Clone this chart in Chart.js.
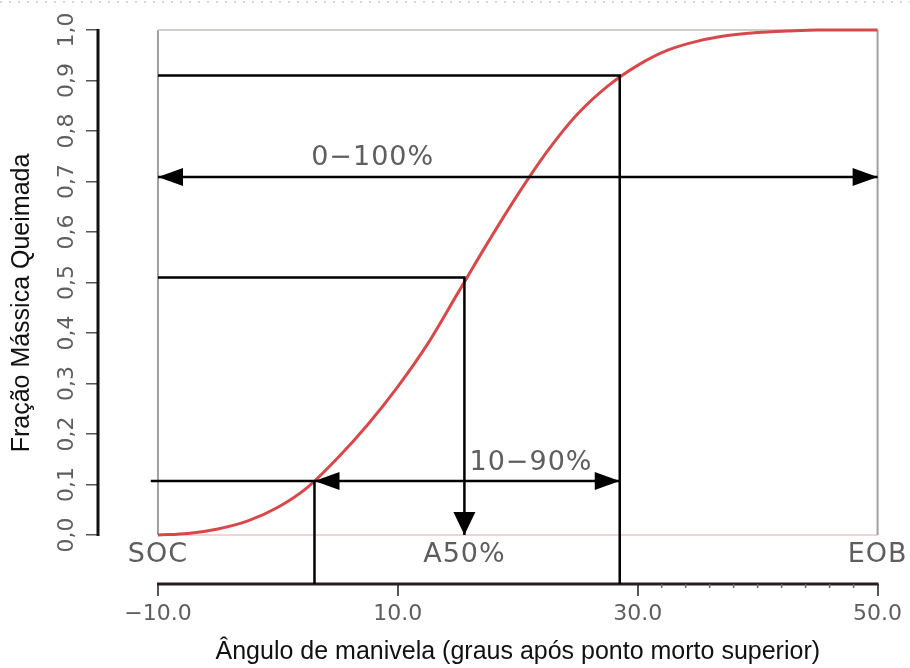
<!DOCTYPE html>
<html lang="pt-BR">
<head>
<meta charset="utf-8">
<title>Fração mássica queimada</title>
<script src="https://cdn.jsdelivr.net/npm/chart.js@4"></script>
<style>
  html, body { margin: 0; background: #fff; }
  #quadro { position: relative; width: 910px; height: 668px; }
  #pontilhado {
    position: absolute; left: 0; top: 1px; width: 910px; height: 2px;
    background-image: linear-gradient(to right, #d6d6d6 2px, transparent 2px);
    background-size: 9px 2px;
  }
</style>
</head>
<body>
<div id="quadro">
  <canvas id="grafico"></canvas>
  <div id="pontilhado"></div>
</div>
<script>
'use strict';
/* Fração mássica queimada x ângulo de manivela */

// ── Eixos ─────────────────────────────────────────
const anguloTicks = [-10, 10, 30, 50];
const anguloRotulos = ['\u221210.0', '10.0', '30.0', '50.0'];
const anguloMenores = [32, 34, 36, 38, 40, 42, 44, 46, 48];
const fracaoTicks = [0, 0.1, 0.2, 0.3, 0.4, 0.5, 0.6, 0.7, 0.8, 0.9, 1.0];
const fracaoRotulos = ['0,0', '0,1', '0,2', '0,3', '0,4', '0,5', '0,6', '0,7', '0,8', '0,9', '1,0'];

// ── Curva ─────────────────────────────────────────
const angulo = [-10, -7.5, -5, -2.5, 0, 2.5, 5, 7.5, 10, 12.5, 15, 17.5, 20, 22.5, 25, 27.5, 30, 32.5, 35, 37.5, 40, 42.5, 45, 47.5, 50];
const fracao = [0, 0.003, 0.012, 0.028, 0.055, 0.095, 0.153, 0.219, 0.294, 0.379, 0.479, 0.579, 0.674, 0.761, 0.834, 0.889, 0.93, 0.96, 0.978, 0.989, 0.995, 0.998, 1.0, 1.0, 1.0];

// ── Marcos ────────────────────────────────────────
const SOC = -10, EOB = 50;
const A10 = 3.05, A50 = 15.55, A90 = 28.5;
const F10 = 0.107, F50 = 0.51, F90 = 0.91, F_SETA = 0.709;
const Y_EIXO = -0.097;   // eixo x fica abaixo da caixa

const linhas = [
  [[SOC, F90], [A90, F90], [A90, Y_EIXO]],
  [[SOC, F50], [A50, F50], [A50, 0]],
  [[SOC - 0.6, F10], [A90, F10]],
  [[A10, F10], [A10, Y_EIXO]],
  [[SOC, F_SETA], [EOB, F_SETA]],
];
const setas = [
  { x: SOC, y: F_SETA, dir: 'esq' }, { x: EOB, y: F_SETA, dir: 'dir' },
  { x: A10, y: F10, dir: 'esq' }, { x: A90, y: F10, dir: 'dir' },
  { x: A50, y: 0, dir: 'baixo' },
];
const textos = [
  { t: '0\u2212100%', x: 7.9, y: 0.747 },
  { t: '10\u221290%', x: 21.1, y: 0.143 },
  { t: 'SOC', x: SOC, y: -0.04 },
  { t: 'A50%', x: A50, y: -0.04 },
  { t: 'EOB', x: EOB, y: -0.04 },
];

const COR_TICK = '#5e5e5e';

const desenho = {
  id: 'desenho',
  beforeDatasetsDraw(chart) {
    const { ctx, chartArea, scales: { x, y } } = chart;
    const x0 = x.getPixelForValue(SOC), x1 = x.getPixelForValue(EOB);
    const y0 = y.getPixelForValue(0), y1 = y.getPixelForValue(1);
    ctx.save();
    // caixa
    ctx.lineWidth = 2;
    ctx.strokeStyle = '#a0a0a0';
    ctx.beginPath(); ctx.moveTo(x0, y0); ctx.lineTo(x0, y1); ctx.stroke();
    ctx.beginPath(); ctx.moveTo(x1, y1); ctx.lineTo(x1, y0); ctx.stroke();
    ctx.strokeStyle = '#cfcfc8';
    ctx.beginPath(); ctx.moveTo(x0, y1); ctx.lineTo(x1, y1); ctx.stroke();
    ctx.lineWidth = 1.2;
    ctx.strokeStyle = '#e2aaaa';
    ctx.beginPath(); ctx.moveTo(x0, y0); ctx.lineTo(x1, y0); ctx.stroke();
    // eixos
    ctx.lineWidth = 3;
    ctx.strokeStyle = '#111';
    ctx.beginPath(); ctx.moveTo(chartArea.left, y0 + 1); ctx.lineTo(chartArea.left, y1 - 1); ctx.stroke();
    ctx.strokeStyle = '#2a1c1c';
    ctx.beginPath(); ctx.moveTo(x0 - 1, chartArea.bottom); ctx.lineTo(x1 + 1, chartArea.bottom); ctx.stroke();
    // ticks menores
    ctx.lineWidth = 1.5;
    ctx.strokeStyle = '#666';
    anguloMenores.forEach(v => {
      const px = x.getPixelForValue(v);
      ctx.beginPath(); ctx.moveTo(px, chartArea.bottom); ctx.lineTo(px, chartArea.bottom + 4); ctx.stroke();
    });
    ctx.restore();
  },
  afterDatasetsDraw(chart) {
    const { ctx, chartArea, scales: { x, y } } = chart;
    ctx.save();
    // pontas das setas
    ctx.fillStyle = '#000';
    setas.forEach(s => {
      const px = x.getPixelForValue(s.x), py = y.getPixelForValue(s.y);
      const L = 25, W = 9;
      ctx.beginPath();
      ctx.moveTo(px, py);
      if (s.dir === 'dir') { ctx.lineTo(px - L, py - W); ctx.lineTo(px - L, py + W); }
      else if (s.dir === 'esq') { ctx.lineTo(px + L, py - W); ctx.lineTo(px + L, py + W); }
      else { ctx.lineTo(px - 11, py - 23); ctx.lineTo(px + 11, py - 23); }
      ctx.closePath(); ctx.fill();
    });
    // textos
    ctx.font = '27px "DejaVu Sans"';
    ctx.letterSpacing = '1px';
    ctx.fillStyle = COR_TICK;
    ctx.textAlign = 'center';
    ctx.textBaseline = 'middle';
    textos.forEach(o => ctx.fillText(o.t, x.getPixelForValue(o.x), y.getPixelForValue(o.y)));
    ctx.letterSpacing = '0px';
    // títulos dos eixos
    ctx.font = '25px "Liberation Sans"';
    ctx.fillStyle = '#111';
    ctx.fillText('Ângulo de manivela (graus após ponto morto superior)',
      (x.getPixelForValue(SOC) + x.getPixelForValue(EOB)) / 2, chart.height - 16);
    ctx.translate(chartArea.left - 76, (chartArea.top + chartArea.bottom) / 2 - 4);
    ctx.rotate(-Math.PI / 2);
    ctx.fillText('Fração Mássica Queimada', 0, 0);
    ctx.restore();
  },
};

const conjuntos = linhas.map(l => ({
  data: l.map(([a, b]) => ({ x: a, y: b })),
  borderColor: '#000', borderWidth: 2.5,
  pointRadius: 0, tension: 0, clip: false, order: 1,
}));
conjuntos.push({
  data: angulo.map((a, i) => ({ x: a, y: fracao[i] })),
  borderColor: '#d8484a', borderWidth: 3,
  pointRadius: 0, cubicInterpolationMode: 'monotone', clip: false, order: 2,
});

new Chart(document.getElementById('grafico'), {
  type: 'line',
  data: { datasets: conjuntos },
  options: {
    responsive: true, maintainAspectRatio: false, animation: false,
    layout: { padding: { top: 30, right: 30, left: 0, bottom: 0 } },
    plugins: { legend: { display: false }, tooltip: { enabled: false } },
    scales: {
      x: {
        type: 'linear', min: -15, max: 50.2,
        afterBuildTicks: s => { s.ticks = anguloTicks.map(v => ({ value: v })); },
        afterFit: s => { s.height = 84; },
        ticks: {
          callback: (v) => anguloRotulos[anguloTicks.indexOf(v)],
          font: { family: 'DejaVu Sans', size: 22 }, color: COR_TICK,
          padding: 5, maxRotation: 0, autoSkip: false,
        },
        grid: { drawOnChartArea: false, tickLength: 12, color: '#555', lineWidth: 2 },
        border: { display: false },
      },
      y: {
        type: 'linear', min: Y_EIXO, max: 1,
        afterBuildTicks: s => { s.ticks = fracaoTicks.map(v => ({ value: v })); },
        afterFit: s => { s.width = 98; },
        ticks: {
          callback: (v) => fracaoRotulos[fracaoTicks.indexOf(v)],
          font: { family: 'DejaVu Sans', size: 22 }, color: COR_TICK,
          minRotation: 90, maxRotation: 90, crossAlign: 'center',
          padding: 1, autoSkip: false,
        },
        grid: { drawOnChartArea: false, tickLength: 12, color: '#555', lineWidth: 1.5 },
        border: { display: false },
      },
    },
  },
  plugins: [desenho],
});
</script>
</body>
</html>
